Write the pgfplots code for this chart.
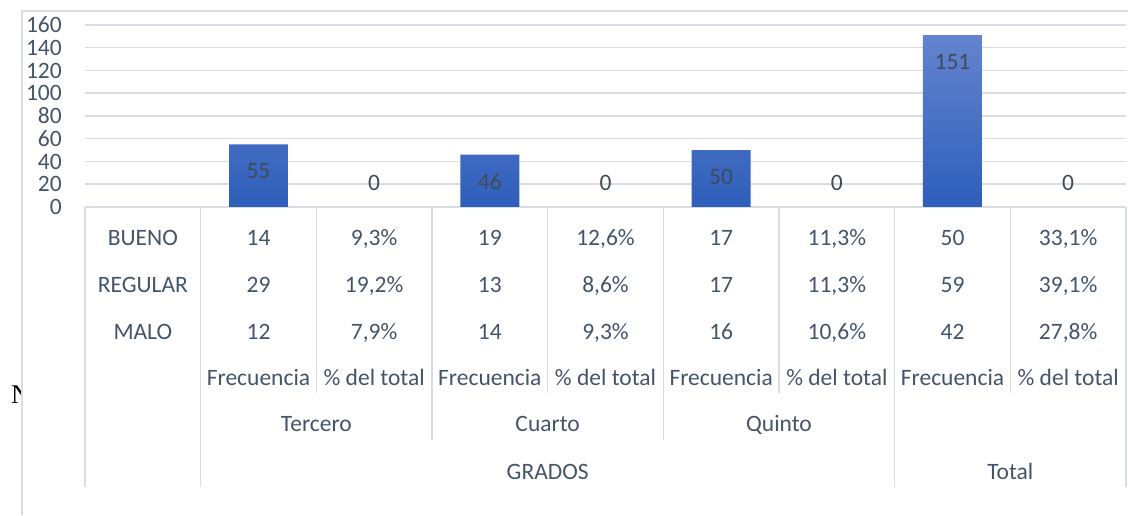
\documentclass[border=0pt]{standalone}
\usepackage{fontspec}
\setmainfont{Carlito}
\newfontfamily\seriffont{Liberation Serif}
\usepackage{pgfplots}
\pgfplotsset{compat=1.18}
\definecolor{txt}{HTML}{44546A}
\definecolor{gridc}{HTML}{D9DCE2}
\definecolor{bartop}{HTML}{6384CF}
\definecolor{barbot}{HTML}{2E5EBA}
\definecolor{lbl}{HTML}{404A5A}
\newcommand{\fs}{\fontsize{23.5}{28}\selectfont}
\newcommand{\cell}[3]{\node[anchor=base, inner sep=0pt, text=txt, font=\fs] at ({85+115.667*(#1+0.5)}, {#2-7.5}) {#3};}
\begin{document}
\begin{tikzpicture}[x=1pt,y=1pt]
\path[use as bounding box] (0,0) rectangle (1128,515);
\begin{scope}
\clip (0,0) rectangle (21.5,515);
\node[anchor=base west, inner sep=0pt, font=\seriffont\fontsize{27}{30}\selectfont] at (11,112) {N};
\end{scope}
\draw[gridc, line width=1.5pt] (22,0) -- (22,504) -- (1128,504);
\begin{axis}[
  at={(85pt,308pt)}, anchor=south west,
  scale only axis, width=1041pt, height=182pt,
  xmin=-0.5, xmax=8.5, ymin=0, ymax=160,
  ytick={0,20,...,160}, xtick=\empty,
  ymajorgrids, grid style={gridc, line width=1.5pt},
  axis x line*=bottom, axis y line*=left,
  y axis line style={draw=none},
  x axis line style={gridc, line width=1.5pt},
  major tick length=0pt, tick style={draw=none},
  yticklabel style={font=\fs, text=txt, anchor=east, inner sep=0pt, xshift=-23pt},
  /pgf/number format/assume math mode=true,
  clip=false,
]
\addplot[ybar, bar shift=0pt, bar width=0.51, draw=none, top color=bartop, bottom color=barbot,
  nodes near coords,
  every node near coord/.append style={anchor=center, yshift=-27pt, font=\fs, text=lbl}]
  coordinates {(1,55) (3,46) (5,50) (7,151)};
\addplot[ybar, bar shift=0pt, bar width=0.51, draw=none, fill=none,
  nodes near coords,
  every node near coord/.append style={anchor=center, yshift=24pt, font=\fs, text=lbl}]
  coordinates {(2,0) (4,0) (6,0) (8,0)};
\end{axis}
% table lines
\foreach \i in {0,1,7,9} {\draw[gridc, line width=1.5pt] ({85+115.667*\i},308) -- ({85+115.667*\i},28);}
\foreach \i in {3,5} {\draw[gridc, line width=1.5pt] ({85+115.667*\i},308) -- ({85+115.667*\i},75);}
\foreach \i in {2,4,6,8} {\draw[gridc, line width=1.5pt] ({85+115.667*\i},308) -- ({85+115.667*\i},122);}
% row labels
\cell{0}{276.7}{BUENO}
\cell{0}{230}{REGULAR}
\cell{0}{183.3}{MALO}
% BUENO
\cell{1}{276.7}{14}\cell{2}{276.7}{9,3\%}\cell{3}{276.7}{19}\cell{4}{276.7}{12,6\%}
\cell{5}{276.7}{17}\cell{6}{276.7}{11,3\%}\cell{7}{276.7}{50}\cell{8}{276.7}{33,1\%}
% REGULAR
\cell{1}{230}{29}\cell{2}{230}{19,2\%}\cell{3}{230}{13}\cell{4}{230}{8,6\%}
\cell{5}{230}{17}\cell{6}{230}{11,3\%}\cell{7}{230}{59}\cell{8}{230}{39,1\%}
% MALO
\cell{1}{183.3}{12}\cell{2}{183.3}{7,9\%}\cell{3}{183.3}{14}\cell{4}{183.3}{9,3\%}
\cell{5}{183.3}{16}\cell{6}{183.3}{10,6\%}\cell{7}{183.3}{42}\cell{8}{183.3}{27,8\%}
% level 1
\foreach \j in {1,3,5,7} {\cell{\j}{137}{Frecuencia}}
\foreach \j in {2,4,6,8} {\cell{\j}{137}{\% del total}}
% level 2
\cell{1.5}{91}{Tercero}
\cell{3.5}{91}{Cuarto}
\cell{5.5}{91}{Quinto}
% level 3
\cell{3.5}{43.5}{GRADOS}
\cell{7.5}{43.5}{Total}
\end{tikzpicture}
\end{document}
